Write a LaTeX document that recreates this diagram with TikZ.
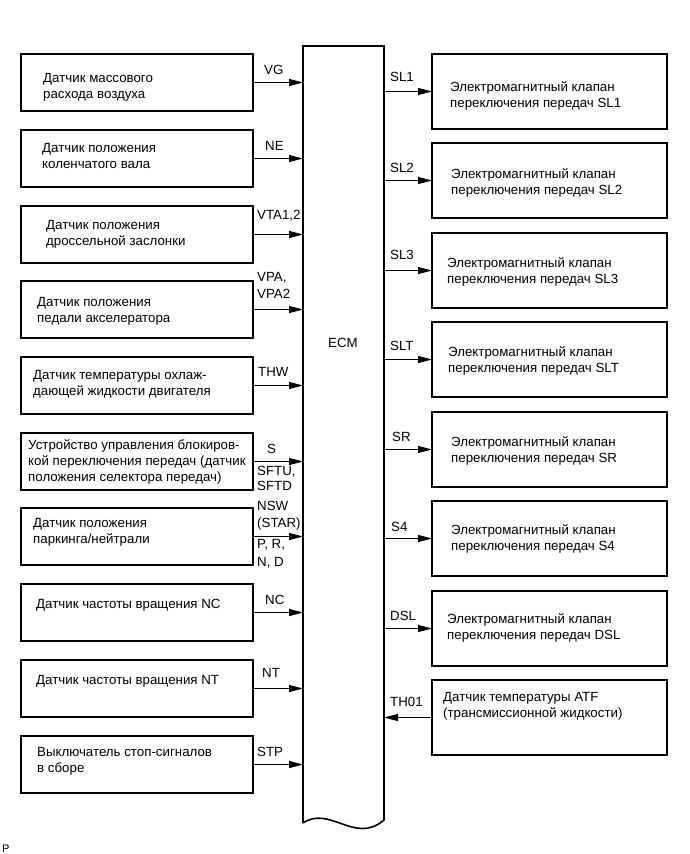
\documentclass[tikz,border=0pt]{standalone}
\usepackage{fontspec}
\setmainfont{Liberation Sans}
\usetikzlibrary{arrows.meta}
\tikzset{
  box/.style={draw, line width=1.6pt, inner sep=0pt, outer sep=0pt, anchor=north west},
  lbox/.style={box, minimum width=232pt, minimum height=57pt},
  rbox/.style={box, minimum width=235pt, minimum height=75pt},
  txt/.style={anchor=base west, align=left, inner sep=0pt, font=\fontsize{13.3}{16}\selectfont},
  lab/.style={anchor=base west, align=left, inner sep=0pt, font=\fontsize{13.3}{16.5}\selectfont},
  arr/.style={line width=1pt, -{Triangle[length=14pt,width=7pt]}},
}
\begin{document}
\begin{tikzpicture}[x=1pt,y=-1pt]
\useasboundingbox (0,0) rectangle (690,854);
% ECM
\node[draw=none, inner sep=0pt, outer sep=0pt, anchor=north west, minimum width=81pt, minimum height=777pt] (ecm) at (303,46) {};
\draw[line width=1.6pt] (ecm.south west) -- (ecm.north west) -- (ecm.north east) -- (384,820) .. controls (355,845) and (330,805) .. (ecm.south west);
\node[anchor=center, inner sep=0pt, font=\fontsize{13.3}{16}\selectfont] (ecmlab) at (343,343) {ECM};
% left boxes
\node[lbox] (L1) at (21,54) {};
\node[lbox] (L2) at (21,130) {};
\node[lbox] (L3) at (21,206) {};
\node[lbox] (L4) at (21,281) {};
\node[lbox] (L5) at (21,357) {};
\node[lbox] (L6) at (21,433) {};
\node[lbox] (L7) at (21,508) {};
\node[lbox] (L8) at (21,584) {};
\node[lbox] (L9) at (21,660) {};
\node[lbox] (L10) at (21,736) {};
% left texts (base = baseline of last line)
\node[txt] (t1) at (43,98) {Датчик массового\\расхода воздуха};
\node[txt] (t2) at (42,168) {Датчик положения\\коленчатого вала};
\node[txt] (t3) at (46,245) {Датчик положения\\дроссельной заслонки};
\node[txt] (t4) at (37,322) {Датчик положения\\педали акселератора};
\node[txt] (t5) at (33,395) {Датчик температуры охлаж-\\дающей жидкости двигателя};
\node[txt] (t6) at (28,481) {Устройство управления блокиров-\\кой переключения передач (датчик\\положения селектора передач)};
\node[txt] (t7) at (33,543) {Датчик положения\\паркинга/нейтрали};
\node[txt] (t8) at (36,608) {Датчик частоты вращения NC};
\node[txt] (t9) at (36,684) {Датчик частоты вращения NT};
\node[txt] (t10) at (37,772) {Выключатель стоп-сигналов\\в сборе};
% left arrows
\foreach \i in {1,...,10} {
  \draw[arr] (L\i.east) -- (L\i.east -| ecm.west);
}
% left labels
\node[lab] (lVG) at (264,74) {VG};
\node[lab] (lNE) at (265,150) {NE};
\node[lab] (lVTA) at (257,219) {VTA1,2};
\node[lab] (lVPA) at (257,298) {VPA,\\VPA2};
\node[lab] (lTHW) at (258,376) {THW};
\node[lab] (lS) at (267,453) {S};
\node[lab, font=\fontsize{13.3}{15}\selectfont] (lSFT) at (257,490) {SFTU,\\SFTD};
\node[lab, font=\fontsize{13.3}{17}\selectfont] (lNSW) at (257,527) {NSW\\(STAR)};
\node[lab, font=\fontsize{13.3}{18.5}\selectfont] (lPRND) at (257,566.5) {P, R,\\N, D};
\node[lab] (lNC) at (265,604) {NC};
\node[lab] (lNT) at (262,677) {NT};
\node[lab] (lSTP) at (257,756) {STP};
% right boxes
\node[rbox] (R1) at (432,54) {};
\node[rbox] (R2) at (432,143) {};
\node[rbox] (R3) at (432,233) {};
\node[rbox] (R4) at (432,322) {};
\node[rbox] (R5) at (432,412) {};
\node[rbox] (R6) at (432,501) {};
\node[rbox] (R7) at (432,591) {};
\node[rbox] (R8) at (432,680) {};
% right texts
\node[txt] (r1) at (450,107) {Электромагнитный клапан\\переключения передач SL1};
\node[txt] (r2) at (451,194) {Электромагнитный клапан\\переключения передач SL2};
\node[txt] (r3) at (447,283) {Электромагнитный клапан\\переключения передач SL3};
\node[txt] (r4) at (448,372) {Электромагнитный клапан\\переключения передач SLT};
\node[txt] (r5) at (451,462) {Электромагнитный клапан\\переключения передач SR};
\node[txt] (r6) at (451,550) {Электромагнитный клапан\\переключения передач S4};
\node[txt] (r7) at (447,639) {Электромагнитный клапан\\переключения передач DSL};
\node[txt] (r8) at (443,717) {Датчик температуры ATF\\(трансмиссионной жидкости)};
% right arrows
\foreach \i in {1,...,7} {
  \draw[arr] (R\i.west -| ecm.east) -- (R\i.west);
}
\draw[arr] (R8.west) -- (R8.west -| ecm.east);
% right labels
\node[lab] (rSL1) at (390,81) {SL1};
\node[lab] (rSL2) at (390,172) {SL2};
\node[lab] (rSL3) at (390,259) {SL3};
\node[lab] (rSLT) at (390,350) {SLT};
\node[lab] (rSR) at (392,441) {SR};
\node[lab] (rS4) at (391,531) {S4};
\node[lab] (rDSL) at (390,620) {DSL};
\node[lab] (rTH) at (390,706) {TH01};
% footer
\node[lab, font=\fontsize{11}{13}\selectfont] (foot) at (2,852) {P};
\end{tikzpicture}
\end{document}
